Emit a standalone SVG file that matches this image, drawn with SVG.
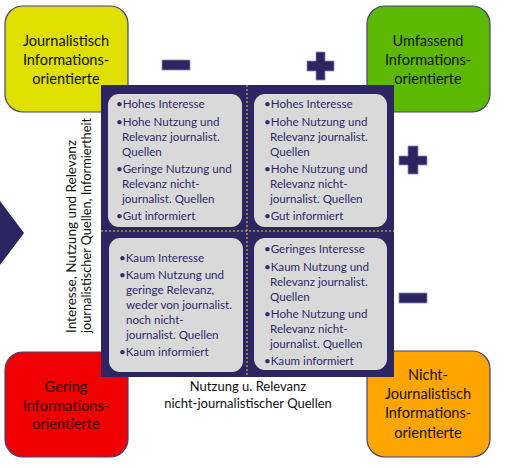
<svg xmlns="http://www.w3.org/2000/svg" width="520" height="468" viewBox="0 0 520 468">
<style>
.corner{stroke:#45407a;stroke-width:1.2}
.ct{font-family:Lato,"Open Sans",sans-serif;font-size:14.5px;fill:#111;text-anchor:middle}
.cell{fill:#d9d9d9}
.bt{font-family:Lato,"Open Sans",sans-serif;font-size:11.6px;fill:#2e2a6b}
.sign{fill:#2c2562;stroke:#8f8cb3;stroke-width:0.8}
.ax{font-family:Lato,"Open Sans",sans-serif;font-size:13px;fill:#111}
.dash{stroke:#e8d43a;stroke-width:1;stroke-dasharray:2 2;fill:none}
</style>
<rect width="520" height="468" fill="#fff"/>

<g id="node-journalistisch">
<rect class="corner" x="5" y="6" width="123" height="106" rx="18" fill="#dfe000"/>
<text class="ct" x="66" y="46">Journalistisch</text>
<text class="ct" x="66" y="65">Informations-</text>
<text class="ct" x="66" y="84">orientierte</text>
</g>
<g id="node-umfassend">
<rect class="corner" x="367" y="6" width="123" height="106" rx="18" fill="#5cb800"/>
<text class="ct" x="428" y="46">Umfassend</text>
<text class="ct" x="428" y="65">Informations-</text>
<text class="ct" x="428" y="84">orientierte</text>
</g>
<g id="node-gering">
<rect class="corner" x="5" y="352" width="123" height="105" rx="18" fill="#f00000"/>
<text class="ct" x="66" y="392" style="fill:#2a0000">Gering</text>
<text class="ct" x="66" y="411" style="fill:#2a0000">Informations-</text>
<text class="ct" x="66" y="429" style="fill:#2a0000">orientierte</text>
</g>
<g id="node-nicht">
<rect class="corner" x="367" y="351" width="123" height="106" rx="18" fill="#ffa500"/>
<text class="ct" x="428" y="380">Nicht-</text>
<text class="ct" x="428" y="399">Journalistisch</text>
<text class="ct" x="428" y="418">Informations-</text>
<text class="ct" x="428" y="438">orientierte</text>
</g>

<g id="matrix">
<rect x="101" y="85" width="293" height="292" fill="#2c2562"/>
<g id="axes">
<line class="dash" x1="247" y1="85" x2="247" y2="377"/>
<line class="dash" x1="101" y1="231" x2="394" y2="231"/>
</g>
</g>

<g id="cell-top-left">
<rect class="cell" x="108" y="94" width="134" height="133" rx="11"/>
<text class="bt" x="116" y="108">•Hohes Interesse</text>
<text class="bt" x="116" y="126">•Hohe Nutzung und</text>
<text class="bt" x="122" y="141">Relevanz journalist.</text>
<text class="bt" x="122" y="156">Quellen</text>
<text class="bt" x="116" y="173">•Geringe Nutzung und</text>
<text class="bt" x="122" y="188">Relevanz nicht-</text>
<text class="bt" x="122" y="203">journalist. Quellen</text>
<text class="bt" x="116" y="220">•Gut informiert</text>
</g>
<g id="cell-top-right">
<rect class="cell" x="254" y="94" width="133" height="133" rx="11"/>
<text class="bt" x="264" y="108">•Hohes Interesse</text>
<text class="bt" x="264" y="126">•Hohe Nutzung und</text>
<text class="bt" x="270" y="141">Relevanz journalist.</text>
<text class="bt" x="270" y="156">Quellen</text>
<text class="bt" x="264" y="173">•Hohe Nutzung und</text>
<text class="bt" x="270" y="188">Relevanz nicht-</text>
<text class="bt" x="270" y="203">journalist. Quellen</text>
<text class="bt" x="264" y="220">•Gut informiert</text>
</g>
<g id="cell-bottom-left">
<rect class="cell" x="109" y="238" width="134" height="134" rx="11"/>
<text class="bt" x="119" y="262">•Kaum Interesse</text>
<text class="bt" x="119" y="279">•Kaum Nutzung und</text>
<text class="bt" x="126" y="294">geringe Relevanz,</text>
<text class="bt" x="126" y="309">weder von journalist.</text>
<text class="bt" x="126" y="324">noch nicht-</text>
<text class="bt" x="126" y="339">journalist. Quellen</text>
<text class="bt" x="119" y="356">•Kaum informiert</text>
</g>
<g id="cell-bottom-right">
<rect class="cell" x="254" y="238" width="133" height="132" rx="11"/>
<text class="bt" x="264" y="253">•Geringes Interesse</text>
<text class="bt" x="264" y="271">•Kaum Nutzung und</text>
<text class="bt" x="270" y="286">Relevanz journalist.</text>
<text class="bt" x="270" y="301">Quellen</text>
<text class="bt" x="264" y="318">•Hohe Nutzung und</text>
<text class="bt" x="270" y="333">Relevanz nicht-</text>
<text class="bt" x="270" y="348">journalist. Quellen</text>
<text class="bt" x="264" y="365">•Kaum informiert</text>
</g>

<g id="connectors">
<polygon points="0,201 24,233 0,265" fill="#2c2562"/>
<rect class="sign" x="162" y="60" width="28" height="10"/>
<path class="sign" d="M316,52 h9 v9 h9 v10 h-9 v9 h-9 v-9 h-9 v-10 h9 z"/>
<path class="sign" d="M408,146 h10 v10 h9 v9 h-9 v9 h-10 v-9 h-9 v-9 h9 z"/>
<rect class="sign" x="399" y="293" width="28" height="10"/>
</g>

<g id="label-y">
<text class="ax" transform="translate(76,333) rotate(-90)" textLength="193" lengthAdjust="spacingAndGlyphs">Interesse, Nutzung und Relevanz</text>
<text class="ax" transform="translate(91,333) rotate(-90)" textLength="215" lengthAdjust="spacingAndGlyphs">journalistischer Quellen, Informiertheit</text>
</g>
<g id="label-x">
<text class="ax" x="248" y="391" text-anchor="middle">Nutzung u. Relevanz</text>
<text class="ax" x="248" y="408" text-anchor="middle">nicht-journalistischer Quellen</text>
</g>
</svg>
